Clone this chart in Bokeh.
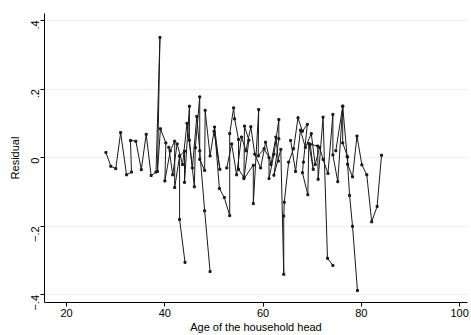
import math
from bokeh.plotting import figure
from bokeh.models import Range1d, FixedTicker
from bokeh.embed import file_html
from bokeh.resources import INLINE

nan = float("nan")

# Residuals in data order (NaN = break in the connected line)
age = [28.0, 29.0, 30.0, 31.0, 32.2, 33.2, 33.0, 34.1, 35.2, 36.2, 37.2, 38.2,
       39.0, 38.5, 39.1, 40.2, 40.0, 41.1, 42.0, 42.0, 43.0, 43.0, 44.1, nan,
       43.0, 44.0, 44.0, 45.0, 45.0, 46.0, 46.2, 47.1, 47.1, 48.1, 48.2, 49.2, 50.0,
       51.2, 50.1, 51.1, 52.1, 53.2, 53.2, 54.0, 54.2, 55.0, 55.0, 56.1, 56.2, 57.1,
       56.1, 58.0, 58.0, 59.1, 59.0, 60.2, 61.2, 61.2, 62.2, 63.2, 63.2, 62.2, 63.6,
       64.2, 64.2, 64.3, 65.2, 66.2, 67.1, 68.0, 69.0, 68.2, 68.0, 69.1, 69.3, 70.2,
       69.6, 71.1, 71.2, 72.2, 73.1, 74.2, nan,
       40.8, 41.6, 42.5, 43.6, 44.5, 45.6, 46.5, 47.1, 48.1, 49.2, nan,
       52.6, 53.6, 54.6, 55.6, 56.5, 57.5, 58.3, 59.5, 60.5, 61.6, 62.6, 63.1, nan,
       65.6, 66.6, 67.6, 68.6, 69.8, 70.6, 71.5, 72.2, 73.2, 74.2, 74.2, 75.2, 76.2,
       76.2, 77.2, 77.2, 78.2, 79.1, 80.1, 81.1, 82.1, 83.2, 84.1, nan,
       74.8, 76.2, 77.1, 77.6, 78.2, 79.2]
resid = [0.015, -0.025, -0.032, 0.073, -0.050, -0.042, 0.050, 0.048, -0.035, 0.068, -0.052, -0.042,
         0.350, -0.040, 0.084, 0.043, -0.068, 0.020, 0.048, -0.087, 0.005, -0.180, -0.305, nan,
         0.005, 0.019, -0.072, 0.150, 0.051, -0.085, 0.029, 0.177, -0.005, -0.037, 0.138, 0.005, 0.077,
         -0.034, 0.089, -0.090, -0.116, -0.169, 0.070, 0.145, 0.113, 0.053, -0.034, -0.058, 0.092, 0.051,
         -0.061, -0.022, -0.134, 0.140, 0.005, 0.026, 0.000, -0.061, 0.010, 0.111, 0.055, -0.051, 0.024,
         -0.340, -0.170, -0.130, -0.013, 0.026, 0.116, 0.077, 0.097, -0.013, -0.044, -0.108, 0.041, -0.034,
         0.039, 0.034, -0.063, 0.118, -0.293, -0.314, nan,
         0.030, -0.050, 0.040, -0.020, 0.100, -0.030, 0.120, 0.020, -0.155, -0.332, nan,
         -0.030, 0.040, -0.050, 0.060, 0.020, 0.090, 0.010, -0.030, 0.045, -0.020, 0.060, -0.010, nan,
         0.050, -0.040, 0.080, 0.030, 0.070, -0.020, 0.030, -0.005, -0.046, 0.126, 0.008, -0.070, 0.150,
         0.043, 0.002, -0.019, -0.056, 0.063, -0.021, -0.050, -0.187, -0.142, 0.007, nan,
         0.020, 0.150, 0.003, -0.110, -0.200, -0.387]

yticks = [-0.4, -0.2, 0.0, 0.2, 0.4]
ytick_labels = ["\u2212.4", "\u2212.2", "0", ".2", ".4"]
xticks = [20, 40, 60, 80, 100]

p = figure(width=471, height=335, output_backend="svg", toolbar_location=None,
           x_range=Range1d(15.5, 101.6), y_range=Range1d(-0.422, 0.42),
           min_border_left=44, min_border_right=4, min_border_top=13, min_border_bottom=31)
p.outline_line_color = None
p.background_fill_color = "white"
p.border_fill_color = "white"

p.line(age, resid, line_color="#1a1a1a", line_width=1.0)
p.scatter(age, resid, marker="square", size=2.0, color="#1a1a1a")

font = "Liberation Sans"
for ax in (p.xaxis[0], p.yaxis[0]):
    ax.axis_line_color = "black"
    ax.major_tick_line_color = "black"
    ax.major_tick_out = 4
    ax.major_tick_in = 0
    ax.minor_tick_line_color = None
    ax.major_label_text_font = font
    ax.major_label_text_font_size = "11px"
    ax.major_label_text_color = "black"
    ax.axis_label_text_font = font
    ax.axis_label_text_font_size = "11px"
    ax.axis_label_text_font_style = "normal"
    ax.axis_label_text_color = "black"
    ax.axis_label_standoff = 1

p.xaxis.major_label_standoff = 2
p.yaxis.major_label_standoff = 5
p.yaxis.axis_label_standoff = 4
p.xaxis.ticker = FixedTicker(ticks=xticks)
p.yaxis.ticker = FixedTicker(ticks=yticks)
p.yaxis.major_label_overrides = {t: l for t, l in zip(yticks, ytick_labels)}
p.yaxis.major_label_orientation = math.pi / 2
p.xaxis.axis_label = "Age of the household head"
p.yaxis.axis_label = "Residual"

p.xgrid.grid_line_color = None
p.ygrid.grid_line_color = "#EAF2F3"
p.ygrid.grid_line_width = 1

open("out.html", "w").write(file_html(p, INLINE))
